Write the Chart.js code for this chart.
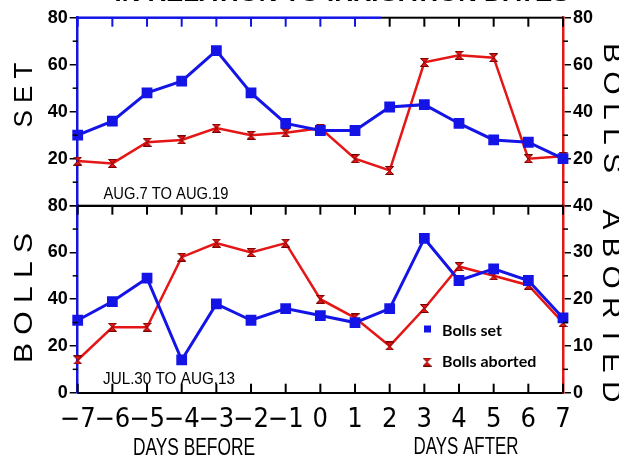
<!DOCTYPE html>
<html>
<head>
<meta charset="utf-8">
<script src="https://cdn.jsdelivr.net/npm/chart.js@4.4.0/dist/chart.umd.min.js"></script>
<style>
  body { margin: 0; background: #fff; width: 619px; height: 457px; overflow: hidden; position: relative; }
  canvas { position: absolute; left: 0; }
  #arriba { top: 0; }
  #abajo { top: 190px; }
</style>
</head>
<body>
<canvas id="arriba" width="619" height="232"></canvas>
<canvas id="abajo" width="619" height="267"></canvas>
<script>
// dias respecto al riego
var dias = ['−7', '−6', '−5', '−4', '−3', '−2', '−1', '0', '1', '2', '3', '4', '5', '6', '7'];

// panel superior: AUG.7 TO AUG.19
var setAgo = [30, 36, 48, 53, 66, 48, 35, 32, 32, 42, 43, 35, 28, 27, 20];
var abortAgo = [19, 18, 27, 28, 33, 30, 31, 33, 20, 15, 61, 64, 63, 20, 21];

// panel inferior: JUL.30 TO AUG.13
var setJul = [31, 39, 49, 14, 38, 31, 36, 33, 30, 36, 66, 48, 53, 48, 32];
var abortJul = [7, 14, 14, 29, 32, 30, 32, 20, 16, 10, 18, 27, 25, 23, 15];

// marcas de los ejes
var ticksSet = [0, 20, 40, 60, 80];
var ticksAbortArriba = [0, 20, 40, 60, 80];
var ticksAbortAbajo = [0, 10, 20, 30, 40];

var AZUL = 'rgb(20,20,230)';
var ROJO = 'rgb(228,22,22)';
var NEGRO = 'rgb(0,0,0)';

function relojArena(size, fill, stroke) {
    var c = document.createElement('canvas');
    c.width = size; c.height = size;
    var g = c.getContext('2d');
    g.beginPath();
    g.moveTo(0.5, 0.5); g.lineTo(size - 0.5, 0.5);
    g.lineTo(0.5, size - 0.5); g.lineTo(size - 0.5, size - 0.5);
    g.closePath();
    g.fillStyle = fill; g.fill();
    g.strokeStyle = stroke; g.lineWidth = 1; g.stroke();
    return c;
}
var marcaRoja = relojArena(9, ROJO, 'rgb(120,0,0)');

// texto estirado a un ancho dado
function texto(ctx, txt, cx, cy, ancho, rot, font) {
    ctx.save();
    ctx.translate(cx, cy);
    ctx.rotate(rot);
    ctx.font = font;
    var w = ctx.measureText(txt).width;
    ctx.scale(ancho / w, 1);
    ctx.textAlign = 'center';
    ctx.textBaseline = 'middle';
    ctx.fillStyle = NEGRO;
    ctx.fillText(txt, 0, 0);
    ctx.restore();
}

// rectangulo relleno (lineas y marcas)
function caja(ctx, x, y, w, h, color) {
    ctx.save();
    ctx.fillStyle = color;
    ctx.fillRect(x, y, w, h);
    ctx.restore();
}

function marcasX(chart, y, dir, colorDe) {
    var xs = chart.scales.x;
    for (var i = 0; i < dias.length; i++) {
        var px = xs.getPixelForValue(i);
        caja(chart.ctx, px - 1, dir > 0 ? y : y - 9, 2, 9, colorDe(px));
    }
}

function marcasMenores(chart, escala, valores, lado) {
    var s = chart.scales[escala];
    var x0 = lado < 0 ? chart.chartArea.left - 5 : chart.chartArea.right;
    valores.forEach(function (v) {
        caja(chart.ctx, x0, s.getPixelForValue(v) - 0.75, 5, 1.5, NEGRO);
    });
}

function ejeY(pos, max, lista, color, ancho, ocultarCero) {
    return {
        position: pos,
        min: 0,
        max: max,
        afterBuildTicks: function (s) { s.ticks = lista.map(function (v) { return { value: v }; }); },
        afterFit: function (s) { s.width = ancho; },
        ticks: {
            color: NEGRO,
            padding: 2,
            font: { family: '"Liberation Sans Narrow", "Liberation Sans", sans-serif', size: 18, weight: 'bold' },
            callback: function (v) { return (ocultarCero && v === 0) ? '' : v; }
        },
        grid: { drawOnChartArea: false, tickLength: 8, color: NEGRO, lineWidth: 1.5 },
        border: { color: color, width: 2.5 }
    };
}

function series(dSet, dAbort) {
    return [{
        label: 'Bolls set',
        data: dSet,
        yAxisID: 'y',
        borderColor: AZUL,
        backgroundColor: AZUL,
        borderWidth: 3,
        pointStyle: 'rect',
        pointRadius: 5.5,
        clip: false
    }, {
        label: 'Bolls aborted',
        data: dAbort,
        yAxisID: 'yR',
        borderColor: ROJO,
        backgroundColor: ROJO,
        borderWidth: 2.5,
        pointStyle: marcaRoja,
        clip: false
    }];
}

var decorArriba = {
    id: 'decorArriba',
    afterDraw: function (chart) {
        var ctx = chart.ctx, a = chart.chartArea;
        // borde superior, azul a la izquierda
        caja(ctx, a.left, a.top - 1.25, 381 - a.left, 2.5, AZUL);
        caja(ctx, 381, a.top - 1, a.right - 381, 2, NEGRO);
        marcasX(chart, a.top, 1, function (px) { return px < 381 ? AZUL : NEGRO; });
        marcasMenores(chart, 'y', [10, 30, 50, 70], -1);
        marcasMenores(chart, 'yR', [10, 30, 50, 70], 1);
        texto(ctx, 'IN RELATION TO IRRIGATION DATES', 342, -6, 455, 0, 'bold 24px "Liberation Sans", sans-serif');
        texto(ctx, 'S E T', 25, 95, 65, -Math.PI / 2, '25px "Liberation Sans", sans-serif');
        texto(ctx, 'B O L L S', 611, 108, 130, Math.PI / 2, '25px "Liberation Sans", sans-serif');
        texto(ctx, 'AUG.7 TO AUG.19', 166, 194, 125, 0, '17px "Liberation Sans", sans-serif');
    }
};

var decorAbajo = {
    id: 'decorAbajo',
    afterDraw: function (chart) {
        var ctx = chart.ctx, a = chart.chartArea, dy = -190;
        caja(ctx, a.left, a.top - 1, a.right - a.left, 2, NEGRO);
        marcasX(chart, a.top, 1, function () { return NEGRO; });
        marcasX(chart, a.bottom, -1, function () { return NEGRO; });
        marcasMenores(chart, 'y', [10, 30, 50, 70], -1);
        marcasMenores(chart, 'yR', [5, 15, 25, 35], 1);
        texto(ctx, 'B O L L S', 25, 298 + dy, 130, -Math.PI / 2, '25px "Liberation Sans", sans-serif');
        texto(ctx, 'A B O R T E D', 610, 306 + dy, 193, Math.PI / 2, '25px "Liberation Sans", sans-serif');
        texto(ctx, 'JUL.30 TO AUG.13', 169, 379 + dy, 132, 0, '17px "Liberation Sans", sans-serif');
        texto(ctx, 'DAYS BEFORE', 194, 448 + dy, 122, 0, '24px "Liberation Sans", sans-serif');
        texto(ctx, 'DAYS AFTER', 466, 447 + dy, 105, 0, '24px "Liberation Sans", sans-serif');

        // leyenda
        ctx.save();
        ctx.fillStyle = AZUL;
        ctx.fillRect(424, 329 + dy - 3.5, 7, 7);
        ctx.drawImage(marcaRoja, 427 - 4.5, 362 + dy - 4.5);
        ctx.fillStyle = NEGRO;
        ctx.font = 'bold 16px Lato, sans-serif';
        ctx.textBaseline = 'middle';
        ctx.fillText('Bolls set', 442, 331 + dy);
        ctx.fillText('Bolls aborted', 442, 362 + dy);
        ctx.restore();
    }
};

var comunes = {
    responsive: false,
    animation: false,
    devicePixelRatio: 1,
    elements: { line: { tension: 0 } },
    plugins: { legend: { display: false }, tooltip: { enabled: false } }
};

// ajusta el relleno para que el area del grafico quede donde debe
function encuadrar(chart, area) {
    var a = chart.chartArea, p = chart.options.layout.padding;
    p.top += area.top - a.top;
    p.bottom += a.bottom - area.bottom;
    p.left += area.left - a.left;
    p.right += a.right - area.right;
    chart.update();
}

var graficoArriba = new Chart(document.getElementById('arriba'), {
    type: 'line',
    data: { labels: dias, datasets: series(setAgo, abortAgo) },
    options: Object.assign({}, comunes, {
        layout: { padding: { top: 17.7, bottom: 26.3, left: 0, right: 0 } },
        scales: {
            x: {
                offset: false,
                ticks: { display: false },
                grid: { drawOnChartArea: false, drawTicks: false },
                border: { color: NEGRO, width: 2 },
                afterFit: function (s) { s.height = 0; }
            },
            y: ejeY('left', 80, ticksSet, AZUL, 77.7, true),
            yR: ejeY('right', 80, ticksAbortArriba, ROJO, 56, true)
        }
    }),
    plugins: [decorArriba]
});

var graficoAbajo = new Chart(document.getElementById('abajo'), {
    type: 'line',
    data: { labels: dias, datasets: series(setJul, abortJul) },
    options: Object.assign({}, comunes, {
        layout: { padding: { top: 15.7, bottom: 0, left: 0, right: 0 } },
        scales: {
            x: {
                offset: false,
                ticks: {
                    color: NEGRO,
                    padding: 11,
                    maxRotation: 0,
                    autoSkip: false,
                    font: { family: '"Liberation Sans Narrow", "DejaVu Sans Condensed", sans-serif', size: 27 }
                },
                grid: { drawOnChartArea: false, drawTicks: false },
                border: { color: NEGRO, width: 2 },
                afterFit: function (s) { s.height = 64.3; }
            },
            y: ejeY('left', 80, ticksSet, AZUL, 77.7, false),
            yR: ejeY('right', 40, ticksAbortAbajo, ROJO, 56, false)
        }
    }),
    plugins: [decorAbajo]
});

encuadrar(graficoArriba, { top: 17.7, bottom: 205.7, left: 77.7, right: 563 });
encuadrar(graficoAbajo, { top: 15.7, bottom: 202.7, left: 77.7, right: 563 });
</script>
</body>
</html>
